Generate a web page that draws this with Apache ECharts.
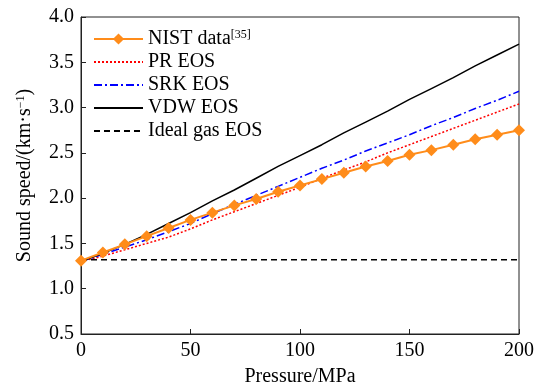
<!DOCTYPE html>
<html>
<head>
<meta charset="utf-8">
<script src="https://cdn.jsdelivr.net/npm/echarts@6/dist/echarts.min.js"></script>
<style>html,body{margin:0;padding:0;background:#fff;}#c{width:539px;height:392px;}</style>
</head>
<body>
<div id="c"></div>
<script>
const pressure = [0,10,20,30,40,50,60,70,80,90,100,110,120,130,140,150,160,170,180,190,200];
const nist  = [1.31,1.40,1.49,1.58,1.67,1.76,1.84,1.92,1.99,2.07,2.14,2.21,2.28,2.35,2.41,2.48,2.53,2.59,2.65,2.70,2.75];
const pr    = [1.30,1.36,1.43,1.50,1.57,1.66,1.76,1.85,1.94,2.03,2.12,2.22,2.31,2.40,2.50,2.59,2.68,2.77,2.86,2.95,3.04];
const srk   = [1.30,1.38,1.46,1.54,1.63,1.72,1.83,1.93,2.03,2.13,2.23,2.33,2.42,2.52,2.61,2.70,2.80,2.89,2.99,3.08,3.18];
const vdw   = [1.30,1.39,1.49,1.60,1.72,1.84,1.97,2.09,2.22,2.35,2.47,2.59,2.72,2.84,2.96,3.09,3.21,3.33,3.46,3.58,3.70];
const ideal = [1.32,1.32,1.32,1.32,1.32,1.32,1.32,1.32,1.32,1.32,1.32,1.32,1.32,1.32,1.32,1.32,1.32,1.32,1.32,1.32,1.32];
const seriesNames = ['NIST data', 'PR EOS', 'SRK EOS', 'VDW EOS', 'Ideal gas EOS'];
const xTicks = [0, 50, 100, 150, 200];
const yTicks = [0.5, 1.0, 1.5, 2.0, 2.5, 3.0, 3.5, 4.0];

const pairs = arr => pressure.map((p, i) => [p, arr[i]]);
const font = "'Liberation Serif', 'Times New Roman', serif";
const FS = 20;
const chart = echarts.init(document.getElementById('c'), null, {renderer: 'canvas'});
chart.setOption({
  animation: false,
  grid: {left: 81, right: 20, top: 17, bottom: 58, show: true, borderColor: '#222', borderWidth: 1},
  legend: {
    orient: 'vertical', left: 93, top: 29, padding: 0, itemWidth: 49, itemHeight: 14, itemGap: 3,
    data: seriesNames.map((n, i) => i === 0 ? {name: n} : {name: n, itemStyle: {opacity: 0}}),
    formatter: n => n === 'NIST data' ? '{a|NIST data}{s|[35]}' : '{a|' + n + '}',
    textStyle: {
      fontFamily: font, fontSize: FS, color: '#000', lineHeight: 20, padding: [0, 0, 0, 0],
      rich: {
        a: {fontFamily: font, fontSize: FS, color: '#000', lineHeight: 20},
        s: {fontFamily: font, fontSize: 12, color: '#000', verticalAlign: 'top', lineHeight: 20, padding: [0,0,6,0]}
      }
    }
  },
  xAxis: {
    type: 'value', min: xTicks[0], max: xTicks[xTicks.length-1], interval: 50,
    name: 'Pressure/MPa', nameLocation: 'middle', nameGap: 33,
    nameTextStyle: {fontFamily: font, fontSize: FS, color: '#000'},
    axisLine: {show: true, lineStyle: {color: '#222', width: 1}},
    axisTick: {show: true, inside: true, length: 5, lineStyle: {color: '#222'}},
    axisLabel: {fontFamily: font, fontSize: FS, color: '#000', margin: 7},
    splitLine: {show: false}
  },
  yAxis: {
    type: 'value', min: yTicks[0], max: yTicks[yTicks.length-1], interval: 0.5,
    name: '{a|Sound speed/(km·s}{s|−1}{a|)}', nameLocation: 'middle', nameGap: 46,
    nameTextStyle: {fontFamily: font, fontSize: FS, color: '#000',
      rich: {
        a: {fontFamily: font, fontSize: FS, color: '#000'},
        s: {fontFamily: font, fontSize: 12, color: '#000', verticalAlign: 'top', padding: [0,0,6,0]}
      }
    },
    axisLine: {show: true, lineStyle: {color: '#222', width: 1}},
    axisTick: {show: true, inside: true, length: 5, lineStyle: {color: '#222'}},
    axisLabel: {fontFamily: font, fontSize: FS, color: '#000', margin: 7, formatter: v => v.toFixed(1)},
    splitLine: {show: false}
  },
  series: [
    {name: seriesNames[0], type: 'line', data: pairs(nist), symbol: 'diamond', symbolSize: 12,
     itemStyle: {color: '#ff8c1a'}, lineStyle: {color: '#ff8c1a', width: 2}, z: 5},
    {name: seriesNames[1], type: 'line', data: pairs(pr), symbol: 'none',
     itemStyle: {color: '#ff0000'}, lineStyle: {color: '#ff0000', width: 1.5, type: [2, 2]}},
    {name: seriesNames[2], type: 'line', data: pairs(srk), symbol: 'none',
     itemStyle: {color: '#0000ff'}, lineStyle: {color: '#0000ff', width: 1.5, type: [8, 3, 2, 3]}},
    {name: seriesNames[3], type: 'line', data: pairs(vdw), symbol: 'none',
     itemStyle: {color: '#000'}, lineStyle: {color: '#000', width: 1.5}},
    {name: seriesNames[4], type: 'line', data: pairs(ideal), symbol: 'none',
     itemStyle: {color: '#000'}, lineStyle: {color: '#000', width: 1.4, type: [6, 4]}}
  ]
});
</script>
</body>
</html>
